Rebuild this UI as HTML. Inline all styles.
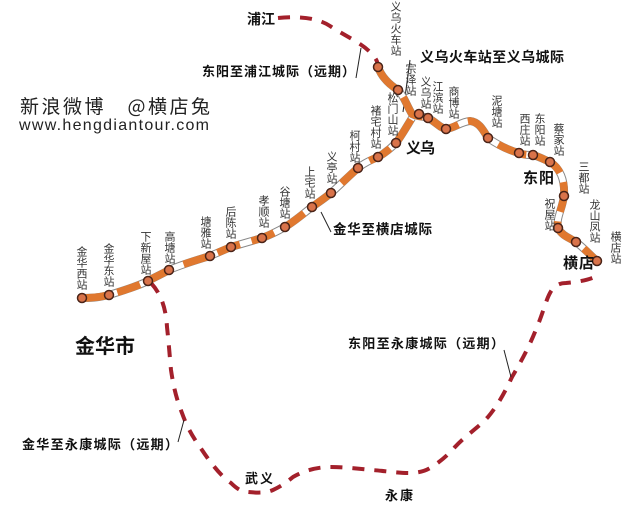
<!DOCTYPE html>
<html><head><meta charset="utf-8"><style>
html,body{margin:0;padding:0;background:#fff;}
svg{display:block;}
.v{writing-mode:vertical-rl;font-family:"Liberation Sans","Noto Sans CJK SC",sans-serif;font-size:11px;fill:#333;letter-spacing:0px;}
.b{font-family:"Liberation Sans","Noto Sans CJK SC",sans-serif;font-weight:bold;fill:#111;}
</style></head><body>
<svg width="640" height="506" viewBox="0 0 640 506" xmlns="http://www.w3.org/2000/svg">
<rect width="640" height="506" fill="#fff"/>
<g fill="none" stroke="#a3202b" stroke-width="4" stroke-dasharray="12 10">
<path d="M278,18 C300,16 318,18 330,26 C345,36 360,42 370,52 C376,58 378,62 378,67"/>
<path d="M151,283 C162,295 166,310 167,327 C169,345 170,360 171,370 C174,390 177,400 182,413 C188,430 195,440 202,450 C212,465 222,477 231,483 C238,490 243,492 248,492 C258,493 266,493 273,490 C282,486 288,481 293,477 C305,470 318,467 331,467 C345,467 360,469 372,470 C385,471 398,473 409,473 C418,473 425,471 430,468 C440,462 448,455 455,447 C466,435 478,428 488,417 C498,405 505,392 512,377 C522,360 530,345 537,327 C543,313 546,300 550,293 C554,285 560,283 566,283 C578,282 588,280 595,277"/>
</g>
<g stroke="#222" stroke-width="1" fill="none">
<line x1="356" y1="78" x2="361" y2="48"/>
<line x1="410" y1="60" x2="403" y2="112"/>
<line x1="331" y1="232" x2="321" y2="212"/>
<line x1="178" y1="442" x2="184" y2="420"/>
<line x1="504" y1="350" x2="511" y2="377"/>
</g>
<g fill="none" stroke-linejoin="round" stroke-linecap="butt">
<path d="M82,298 C95,298 100,297 109,295 C122,291 138,286 148,281 C155,277 162,274 169,270 C183,264 197,260 210,256 C217,253 224,250 231,247 C241,244 252,241 262,238 C270,235 278,231 285,227 C295,221 304,213 312,207 C319,202 325,198 331,193 C340,185 350,175 358,168 C364,163 371,160 378,157 C385,153 391,148 396,143 C402,135 407,126 412,118" stroke="#888" stroke-width="8"/>
<path d="M82,298 C95,298 100,297 109,295 C122,291 138,286 148,281 C155,277 162,274 169,270 C183,264 197,260 210,256 C217,253 224,250 231,247 C241,244 252,241 262,238 C270,235 278,231 285,227 C295,221 304,213 312,207 C319,202 325,198 331,193 C340,185 350,175 358,168 C364,163 371,160 378,157 C385,153 391,148 396,143 C402,135 407,126 412,118" stroke="#fff" stroke-width="6"/>
<path d="M82,298 C95,298 100,297 109,295 C122,291 138,286 148,281 C155,277 162,274 169,270 C183,264 197,260 210,256 C217,253 224,250 231,247 C241,244 252,241 262,238 C270,235 278,231 285,227 C295,221 304,213 312,207 C319,202 325,198 331,193 C340,185 350,175 358,168 C364,163 371,160 378,157 C385,153 391,148 396,143 C402,135 407,126 412,118" stroke="#e0782f" stroke-width="7.5" stroke-dasharray="24 12"/>
<path d="M378,67 C382,78 390,85 398,90 C404,96 407,106 412,114 C418,117 423,116 428,118 C436,122 440,128 446,129 C455,128 460,122 470,121 C480,122 484,132 488,138 C498,145 508,150 519,153 C524,155 528,155 533,155 C540,157 545,160 550,162 C560,168 565,180 564,196 C562,210 556,218 558,228 C562,236 570,238 576,242 C584,248 590,255 597,261" stroke="#888" stroke-width="8"/>
<path d="M378,67 C382,78 390,85 398,90 C404,96 407,106 412,114 C418,117 423,116 428,118 C436,122 440,128 446,129 C455,128 460,122 470,121 C480,122 484,132 488,138 C498,145 508,150 519,153 C524,155 528,155 533,155 C540,157 545,160 550,162 C560,168 565,180 564,196 C562,210 556,218 558,228 C562,236 570,238 576,242 C584,248 590,255 597,261" stroke="#fff" stroke-width="6"/>
<path d="M378,67 C382,78 390,85 398,90 C404,96 407,106 412,114 C418,117 423,116 428,118 C436,122 440,128 446,129 C455,128 460,122 470,121 C480,122 484,132 488,138 C498,145 508,150 519,153 C524,155 528,155 533,155 C540,157 545,160 550,162 C560,168 565,180 564,196 C562,210 556,218 558,228 C562,236 570,238 576,242 C584,248 590,255 597,261" stroke="#e0782f" stroke-width="7.5" stroke-dasharray="30 10"/>
</g>
<g fill="#d9734a" stroke="#4a2418" stroke-width="1.5">
<circle cx="82" cy="298" r="4.5"/><circle cx="109" cy="295" r="4.5"/><circle cx="148" cy="281" r="4.5"/>
<circle cx="169" cy="270" r="4.5"/><circle cx="210" cy="256" r="4.5"/><circle cx="231" cy="247" r="4.5"/>
<circle cx="262" cy="238" r="4.5"/><circle cx="285" cy="227" r="4.5"/><circle cx="312" cy="207" r="4.5"/>
<circle cx="331" cy="193" r="4.5"/><circle cx="358" cy="168" r="4.5"/><circle cx="378" cy="157" r="4.5"/>
<circle cx="396" cy="143" r="4.5"/><circle cx="378" cy="67" r="4.5"/><circle cx="398" cy="90" r="4.5"/>
<circle cx="419" cy="114" r="4.5"/><circle cx="428" cy="118" r="4.5"/><circle cx="446" cy="129" r="4.5"/>
<circle cx="488" cy="138" r="4.5"/><circle cx="519" cy="153" r="4.5"/><circle cx="533" cy="155" r="4.5"/>
<circle cx="550" cy="162" r="4.5"/><circle cx="564" cy="196" r="4.5"/><circle cx="558" cy="228" r="4.5"/>
<circle cx="576" cy="242" r="4.5"/><circle cx="597" cy="261" r="4.5"/>
</g>
<text class="v" x="81" y="246">金华西站</text>
<text class="v" x="108" y="243">金华东站</text>
<text class="v" x="145" y="231">下新屋站</text>
<text class="v" x="169" y="231">高塘站</text>
<text class="v" x="205" y="216">塘雅站</text>
<text class="v" x="230" y="206">后陈站</text>
<text class="v" x="263" y="195">孝顺站</text>
<text class="v" x="284" y="186">谷塘站</text>
<text class="v" x="309" y="166">上宅站</text>
<text class="v" x="331" y="151">义亭站</text>
<text class="v" x="354" y="130">柯村站</text>
<text class="v" x="375" y="105">褚宅村站</text>
<text class="v" x="392" y="92">松门山站</text>
<text class="v" x="395" y="1">义乌火车站</text>
<text class="v" x="410" y="63">宗泽站</text>
<text class="v" x="425" y="76">义乌站</text>
<text class="v" x="437" y="81">江滨站</text>
<text class="v" x="453" y="86">商博站</text>
<text class="v" x="496" y="95">泥塘站</text>
<text class="v" x="524" y="113">西庄站</text>
<text class="v" x="539" y="113">东阳站</text>
<text class="v" x="558" y="123">蔡家站</text>
<text class="v" x="583" y="161">三都站</text>
<text class="v" x="549" y="198">祝屋站</text>
<text class="v" x="594" y="199">龙山凤站</text>
<text class="v" x="615" y="231">横店站</text>
<text class="b" x="247" y="24" font-size="14" textLength="28">浦江</text>
<text class="b" x="202" y="76" font-size="13" textLength="153">东阳至浦江城际（远期）</text>
<text class="b" x="420" y="62" font-size="14" textLength="144">义乌火车站至义乌城际</text>
<text class="b" x="333" y="234" font-size="13.5" textLength="99">金华至横店城际</text>
<text class="b" x="406" y="153" font-size="15" textLength="29">义乌</text>
<text class="b" x="523" y="183" font-size="15" textLength="31">东阳</text>
<text class="b" x="563" y="268" font-size="15" textLength="31">横店</text>
<text class="b" x="75" y="353" font-size="20" textLength="60">金华市</text>
<text class="b" x="348" y="348" font-size="13" textLength="156">东阳至永康城际（远期）</text>
<text class="b" x="22" y="449" font-size="13" textLength="156">金华至永康城际（远期）</text>
<text class="b" x="245" y="483" font-size="13" textLength="28">武义</text>
<text class="b" x="385" y="500" font-size="13" textLength="28">永康</text>
<text x="20" y="113" font-family="'Noto Sans CJK SC',sans-serif" font-size="19" fill="#222" textLength="190">新浪微博　@横店兔</text>
<text x="19" y="130" font-family="'Liberation Sans',sans-serif" font-size="16" fill="#222" textLength="190">www.hengdiantour.com</text>
</svg>
</body></html>
